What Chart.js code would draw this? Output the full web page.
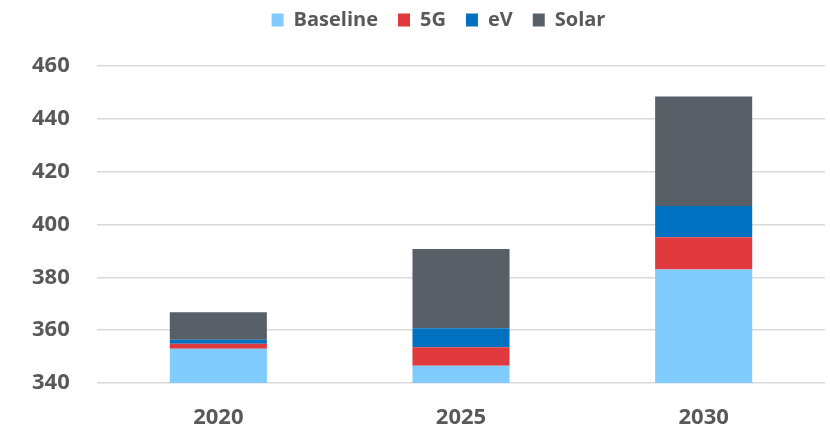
<!DOCTYPE html>
<html>
<head>
<meta charset="utf-8">
<script src="https://cdn.jsdelivr.net/npm/chart.js@4/dist/chart.umd.min.js"></script>
<style>
  html, body { margin: 0; padding: 0; background: #fff; }
  #wrap { width: 830px; height: 427px; }
</style>
</head>
<body>
<div id="wrap"><canvas id="demandChart" width="830" height="427"></canvas></div>
<script>
const years = ['2020', '2025', '2030'];
const baseline = [353, 346.5, 383];
const fiveG = [1.9, 7, 12.2];
const eV = [1.5, 7.2, 11.8];
const solar = [10.4, 30, 41.5];
const yTicks = [340, 360, 380, 400, 420, 440, 460];

const textGrey = '#595959';

// nudges the legend off-centre once the layout is done
const legendShift = {
  id: 'legendShift',
  afterLayout(chart, args, opts){
    const lg = chart.legend;
    lg.left += opts.dx; lg.right += opts.dx;
    lg.top += opts.dy; lg.bottom += opts.dy;
  }
};

function makeSet(label, values, colour){
  return {
    label: label,
    data: values,
    backgroundColor: colour,
    borderWidth: 0,
    clip: 0,
    categoryPercentage: 1,
    barPercentage: 0.4
  };
}

window.onload = function(){
  const data = {
    labels: years,
    datasets: [
      makeSet('Baseline', baseline, '#80CCFF'),
      makeSet('5G', fiveG, '#E0393E'),
      makeSet('eV', eV, '#0070C0'),
      makeSet('Solar', solar, '#585F66')
    ]
  };

  new Chart(document.getElementById('demandChart'), {
    type: 'bar',
    data: data,
    plugins: [legendShift],
    options: {
      responsive: false,
      animation: false,
      layout: { padding: { left: 32, right: 5, top: 16, bottom: 0 } },
      plugins: {
        tooltip: { enabled: false },
        legendShift: { dx: 10, dy: -26 },
        legend: {
          position: 'top',
          labels: {
            boxWidth: 12,
            boxHeight: 13,
            padding: 20,
            color: textGrey,
            font: { family: 'Open Sans', size: 20, weight: 'bold' }
          }
        }
      },
      scales: {
        x: {
          stacked: true,
          grid: { display: false, drawTicks: false },
          border: { display: false },
          ticks: {
            color: textGrey,
            padding: 22,
            font: { family: 'Open Sans', size: 22, weight: 'bold' }
          },
          afterFit: function(scale){ scale.height = 44; }
        },
        y: {
          stacked: true,
          min: yTicks[0],
          max: yTicks[yTicks.length - 1],
          afterBuildTicks: function(scale){
            scale.ticks = yTicks.map(v => ({ value: v }));
          },
          grid: { color: '#D9D9D9', lineWidth: 1.5, drawTicks: false },
          border: { display: false },
          ticks: {
            color: textGrey,
            crossAlign: 'far',
            font: { family: 'Open Sans', size: 22, weight: 'bold' }
          },
          afterFit: function(scale){ scale.width = 65; }
        }
      }
    }
  });
};
</script>
</body>
</html>
